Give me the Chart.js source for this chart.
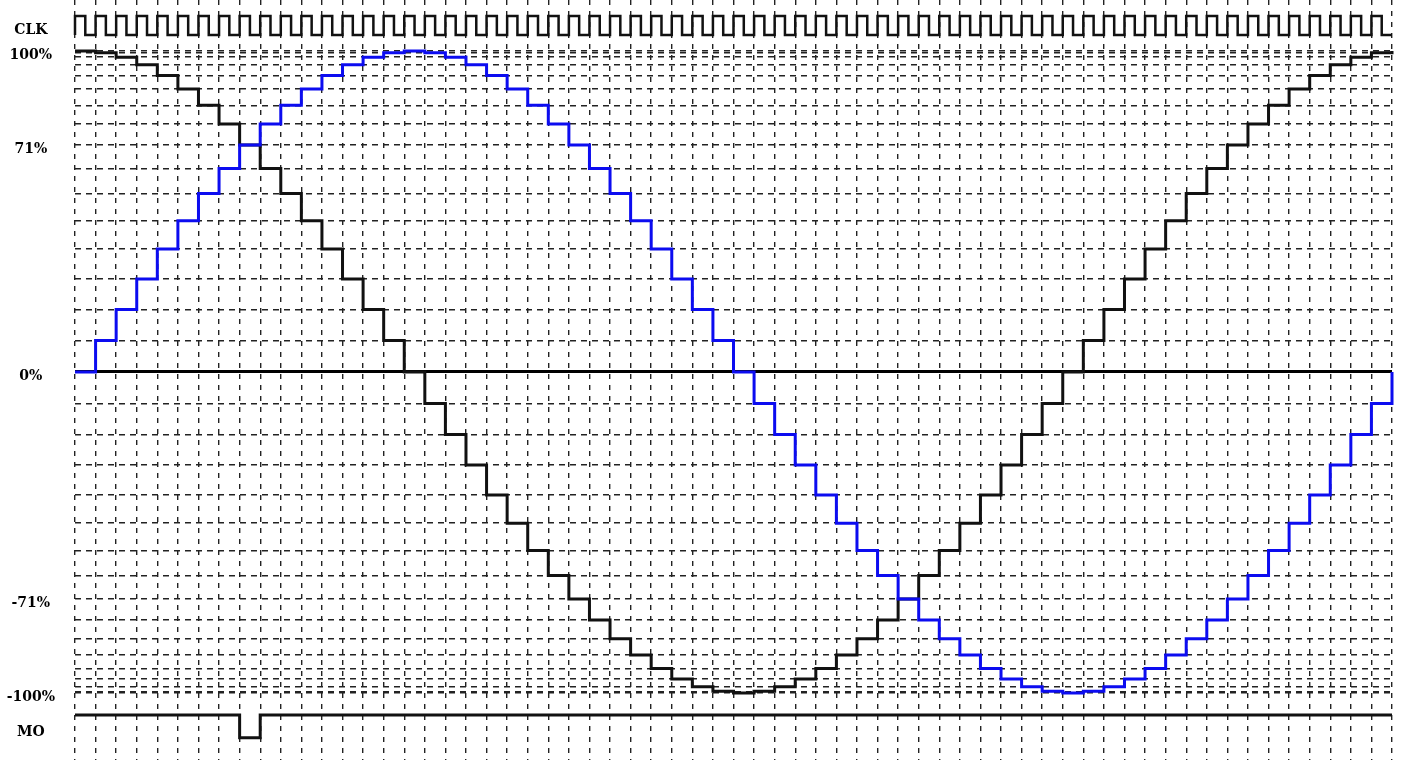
<!DOCTYPE html>
<html>
<head>
<meta charset="utf-8">
<title>Microstep currents</title>
<script src="https://cdn.jsdelivr.net/npm/chart.js@4.4.1/dist/chart.umd.min.js"></script>
<style>
  body { margin: 0; background: #fff; }
  #wrap { width: 1405px; height: 760px; position: relative; }
</style>
</head>
<body>
<div id="wrap"><canvas id="myChart"></canvas></div>
<script>
// coil A (blue) and coil B (black) current per microstep, in %
const coilA = [
    0, 9.8, 19.5, 29.0, 38.3, 47.1, 55.6, 63.4, 70.7, 77.3, 83.1, 88.2, 92.4, 95.7, 98.1, 99.5, 100,
    99.5, 98.1, 95.7, 92.4, 88.2, 83.1, 77.3, 70.7, 63.4, 55.6, 47.1, 38.3, 29.0, 19.5, 9.8, 0,
    -9.8, -19.5, -29.0, -38.3, -47.1, -55.6, -63.4, -70.7, -77.3, -83.1, -88.2, -92.4, -95.7, -98.1, -99.5, -100,
    -99.5, -98.1, -95.7, -92.4, -88.2, -83.1, -77.3, -70.7, -63.4, -55.6, -47.1, -38.3, -29.0, -19.5, -9.8, 0
];
const coilB = [
    100, 99.5, 98.1, 95.7, 92.4, 88.2, 83.1, 77.3, 70.7, 63.4, 55.6, 47.1, 38.3, 29.0, 19.5, 9.8, 0,
    -9.8, -19.5, -29.0, -38.3, -47.1, -55.6, -63.4, -70.7, -77.3, -83.1, -88.2, -92.4, -95.7, -98.1, -99.5, -100,
    -99.5, -98.1, -95.7, -92.4, -88.2, -83.1, -77.3, -70.7, -63.4, -55.6, -47.1, -38.3, -29.0, -19.5, -9.8, 0,
    9.8, 19.5, 29.0, 38.3, 47.1, 55.6, 63.4, 70.7, 77.3, 83.1, 88.2, 92.4, 95.7, 98.1, 99.5, 100
];
// MO output per microstep (1 = high)
const moLevels = [
    1, 1, 1, 1, 1, 1, 1, 1, 0, 1, 1, 1, 1, 1, 1, 1, 1,
    1, 1, 1, 1, 1, 1, 1, 1, 1, 1, 1, 1, 1, 1, 1, 1,
    1, 1, 1, 1, 1, 1, 1, 1, 1, 1, 1, 1, 1, 1, 1, 1,
    1, 1, 1, 1, 1, 1, 1, 1, 1, 1, 1, 1, 1, 1, 1, 1
];
// CLK level per half microstep (first entry is the level before the first edge)
const clkLevels = [
    0,
    1, 0, 1, 0, 1, 0, 1, 0, 1, 0, 1, 0, 1, 0, 1, 0, 1, 0, 1, 0, 1, 0, 1, 0, 1, 0, 1, 0, 1, 0, 1, 0,
    1, 0, 1, 0, 1, 0, 1, 0, 1, 0, 1, 0, 1, 0, 1, 0, 1, 0, 1, 0, 1, 0, 1, 0, 1, 0, 1, 0, 1, 0, 1, 0,
    1, 0, 1, 0, 1, 0, 1, 0, 1, 0, 1, 0, 1, 0, 1, 0, 1, 0, 1, 0, 1, 0, 1, 0, 1, 0, 1, 0, 1, 0, 1, 0,
    1, 0, 1, 0, 1, 0, 1, 0, 1, 0, 1, 0, 1, 0, 1, 0, 1, 0, 1, 0, 1, 0, 1, 0, 1, 0, 1, 0, 1, 0, 1, 0,
    0
];
// current levels that get a dashed grid line
const gridLevels = [
    100, 99.5, 98.1, 95.7, 92.4, 88.2, 83.1, 77.3, 70.7, 63.4, 55.6, 47.1, 38.3, 29.0, 19.5, 9.8, 0,
    -9.8, -19.5, -29.0, -38.3, -47.1, -55.6, -63.4, -70.7, -77.3, -83.1, -88.2, -92.4, -95.7, -98.1, -99.5, -100
];
const tickValues = [100, 70.7, 0, -70.7, -100];
const tickTexts = ['100%', '71%', '0%', '-71%', '-100%'];

// where the digital traces sit on the value axis
const Y_TOP = 115.9, Y_BOTTOM = -120.9;
const CLK_HI = 110.9, CLK_LO = 105.0, CLK_LABEL = 107.6;
const MO_HI = -106.9, MO_LO = -114.0, MO_LABEL = -110.9;

const BLUE = 'rgb(12,12,240)';
const INK = '#111';

const ctx = document.getElementById('myChart');

const toPoints = arr => arr.map((v, i) => ({x: i, y: v}));

function labelFor(v) {
    if (v === CLK_LABEL) return 'CLK';
    if (v === MO_LABEL) return 'MO';
    const i = tickValues.indexOf(v);
    return i >= 0 ? tickTexts[i] : '';
}

const isSignalTick = c => c.tick && (c.tick.value === CLK_LABEL || c.tick.value === MO_LABEL);
const isZeroTick = c => c.tick && c.tick.value === 0;

const lineStyle = {
    pointRadius: 0,
    stepped: true,
    borderJoinStyle: 'miter',
    borderCapStyle: 'butt',
    fill: false,
    clip: false
};

new Chart(ctx, {
    type: 'line',
    data: {
        datasets: [
            Object.assign({
                label: 'Coil A',
                data: toPoints(coilA),
                borderColor: BLUE,
                borderWidth: 3,
                order: 0
            }, lineStyle),
            Object.assign({
                label: 'Coil B',
                data: toPoints(coilB),
                borderColor: INK,
                borderWidth: 3,
                order: 1
            }, lineStyle),
            Object.assign({
                label: 'CLK',
                data: clkLevels.map((v, i) => ({x: i === 0 ? 0 : Math.min((i - 1) / 2, 64), y: v ? CLK_HI : CLK_LO})),
                borderColor: INK,
                borderWidth: 2.5,
                order: 2
            }, lineStyle),
            Object.assign({
                label: 'MO',
                data: moLevels.map((v, i) => ({x: i, y: v ? MO_HI : MO_LO})),
                borderColor: INK,
                borderWidth: 3,
                order: 2
            }, lineStyle)
        ]
    },
    options: {
        responsive: true,
        maintainAspectRatio: false,
        animation: false,
        events: [],
        layout: {
            padding: {left: 0, right: 13, top: 0, bottom: 0}
        },
        plugins: {
            legend: {display: false},
            tooltip: {enabled: false}
        },
        scales: {
            x: {
                type: 'linear',
                min: 0,
                max: 64,
                afterBuildTicks: scale => {
                    scale.ticks = coilA.map((_, i) => ({value: i}));
                },
                afterFit: scale => {
                    scale.height = 0;
                    scale.paddingLeft = 0;
                    scale.paddingRight = 0;
                },
                ticks: {display: false, autoSkip: false},
                grid: {
                    drawTicks: false,
                    color: '#222',
                    lineWidth: 1.4
                },
                border: {display: false, dash: [5, 6]}
            },
            y: {
                type: 'linear',
                min: Y_BOTTOM,
                max: Y_TOP,
                afterBuildTicks: scale => {
                    scale.ticks = [CLK_LABEL].concat(gridLevels, [MO_LABEL]).map(v => ({value: v}));
                },
                afterFit: scale => {
                    scale.width = 75;
                    scale.paddingTop = 0;
                    scale.paddingBottom = 0;
                },
                ticks: {
                    autoSkip: false,
                    crossAlign: 'center',
                    padding: 20,
                    labelOffset: 4,
                    color: '#000',
                    font: {family: '"DejaVu Serif"', size: 14, weight: 'bold'},
                    callback: value => labelFor(value)
                },
                grid: {
                    drawTicks: false,
                    color: c => isSignalTick(c) ? 'rgba(0,0,0,0)' : (isZeroTick(c) ? '#000' : '#222'),
                    lineWidth: c => isZeroTick(c) ? 3 : 1.4
                },
                border: {
                    display: false,
                    dash: c => isZeroTick(c) ? [] : [6, 5]
                }
            }
        }
    }
});
</script>
</body>
</html>
